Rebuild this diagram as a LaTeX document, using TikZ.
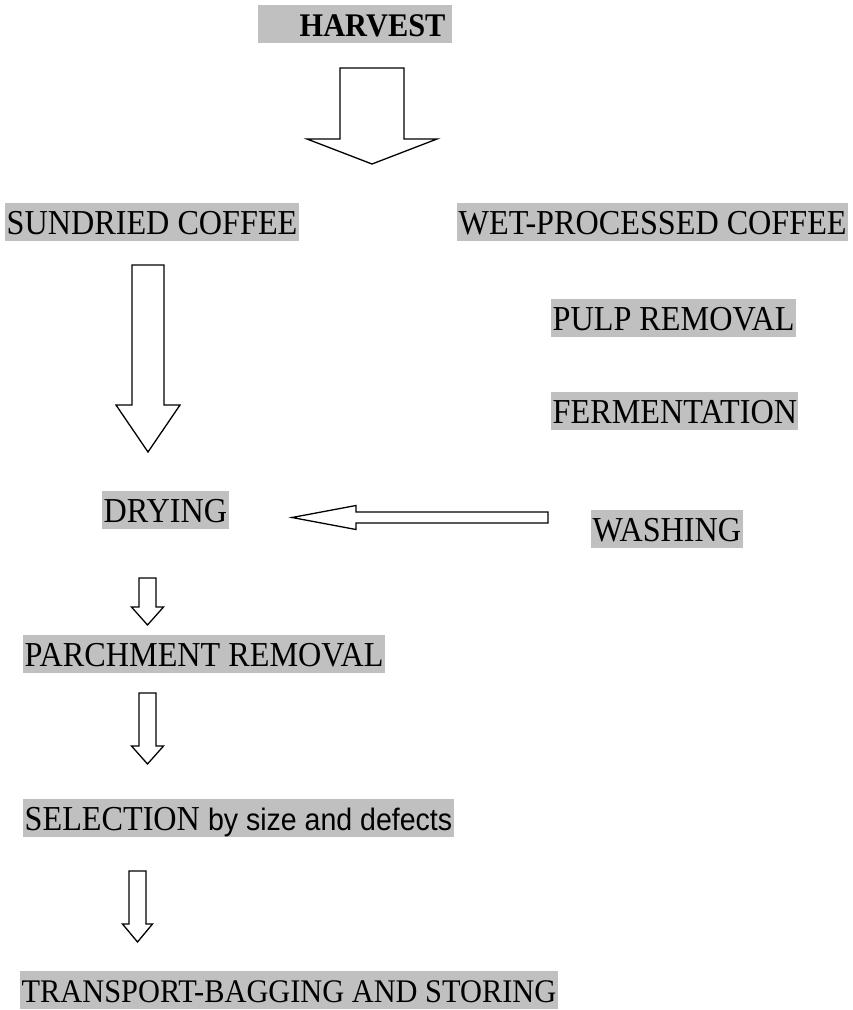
\documentclass[tikz,border=0pt]{standalone}
\usepackage{fontspec}
\setmainfont[FakeStretch=0.92]{Liberation Serif}
\setsansfont[FakeStretch=0.92]{Liberation Sans}
\usetikzlibrary{calc,positioning}
\definecolor{hlgray}{HTML}{C0C0C0}
% block arrow pointing down: tail, tip, shaft half width, head half width, head length
\newcommand{\blockdown}[5]{%
  \draw[blk] ($(#1)+(-#3,0)$) -- ($(#1)+(#3,0)$) -- ($(#2)+(#3,-#5)$) -- ($(#2)+(#4,-#5)$)
    -- (#2) -- ($(#2)+(-#4,-#5)$) -- ($(#2)+(-#3,-#5)$) -- cycle;}
% block arrow pointing left
\newcommand{\blockleft}[5]{%
  \draw[blk] ($(#1)+(0,-#3)$) -- ($(#2)+(#5,-#3)$) -- ($(#2)+(#5,-#4)$) -- (#2)
    -- ($(#2)+(#5,#4)$) -- ($(#2)+(#5,#3)$) -- ($(#1)+(0,#3)$) -- cycle;}

\begin{document}
\begin{tikzpicture}[x=1pt,y=-1pt,
  hl/.style={fill=hlgray,inner xsep=1.5pt,inner ysep=0pt,text height=31pt,text depth=7pt,
             anchor=north west,font=\fontsize{35}{38}\selectfont},
  blk/.style={draw,line width=1.3pt,fill=white,line join=miter}]
  \useasboundingbox (0,0) rectangle (852,1010);
  \node[hl,font=\fontsize{33}{38}\selectfont\bfseries] (harvest) at (258,5) {\hspace*{40pt}HARVEST\hspace*{5pt}};
  \node[hl] (sundried) at (5,203) {SUNDRIED COFFEE};
  \node[hl] (wet) at (457,203) {WET-PROCESSED COFFEE};
  \node[hl] (pulp) at (551,299) {PULP REMOVAL};
  \node[hl] (ferm) at (551,392) {FERMENTATION};
  \node[hl] (drying) at (102,491) {DRYING};
  \node[hl] (washing) at (591,510) {WASHING};
  \node[hl] (parch) at (23,635) {PARCHMENT REMOVAL};
  \node[hl] (select) at (23,799) {SELECTION {\sffamily\fontsize{31}{38}\selectfont by size and defects}};
  \node[hl,font=\fontsize{33}{38}\selectfont] (transp) at (20,971) {TRANSPORT-BAGGING AND STORING};
  % arrow ends
  \coordinate (h0) at (372,68);   \coordinate (h1) at (372,164);
  \coordinate (s0) at (148,265);  \coordinate (s1) at (148,452);
  \coordinate (w0) at (548,517.5);\coordinate (w1) at (292,517.5);
  \coordinate (d0) at (147.5,578);\coordinate (d1) at (147.5,625);
  \coordinate (p0) at (147.5,693);\coordinate (p1) at (147.5,764);
  \coordinate (c0) at (137.5,871);\coordinate (c1) at (137.5,942);
  \blockdown{h0}{h1}{32}{65}{25}
  \blockdown{s0}{s1}{16}{32}{47}
  \blockleft{w0}{w1}{5.5}{12}{64}
  \blockdown{d0}{d1}{8.5}{16}{18}
  \blockdown{p0}{p1}{8.5}{16}{18}
  \blockdown{c0}{c1}{8.5}{15}{18}
\end{tikzpicture}
\end{document}
